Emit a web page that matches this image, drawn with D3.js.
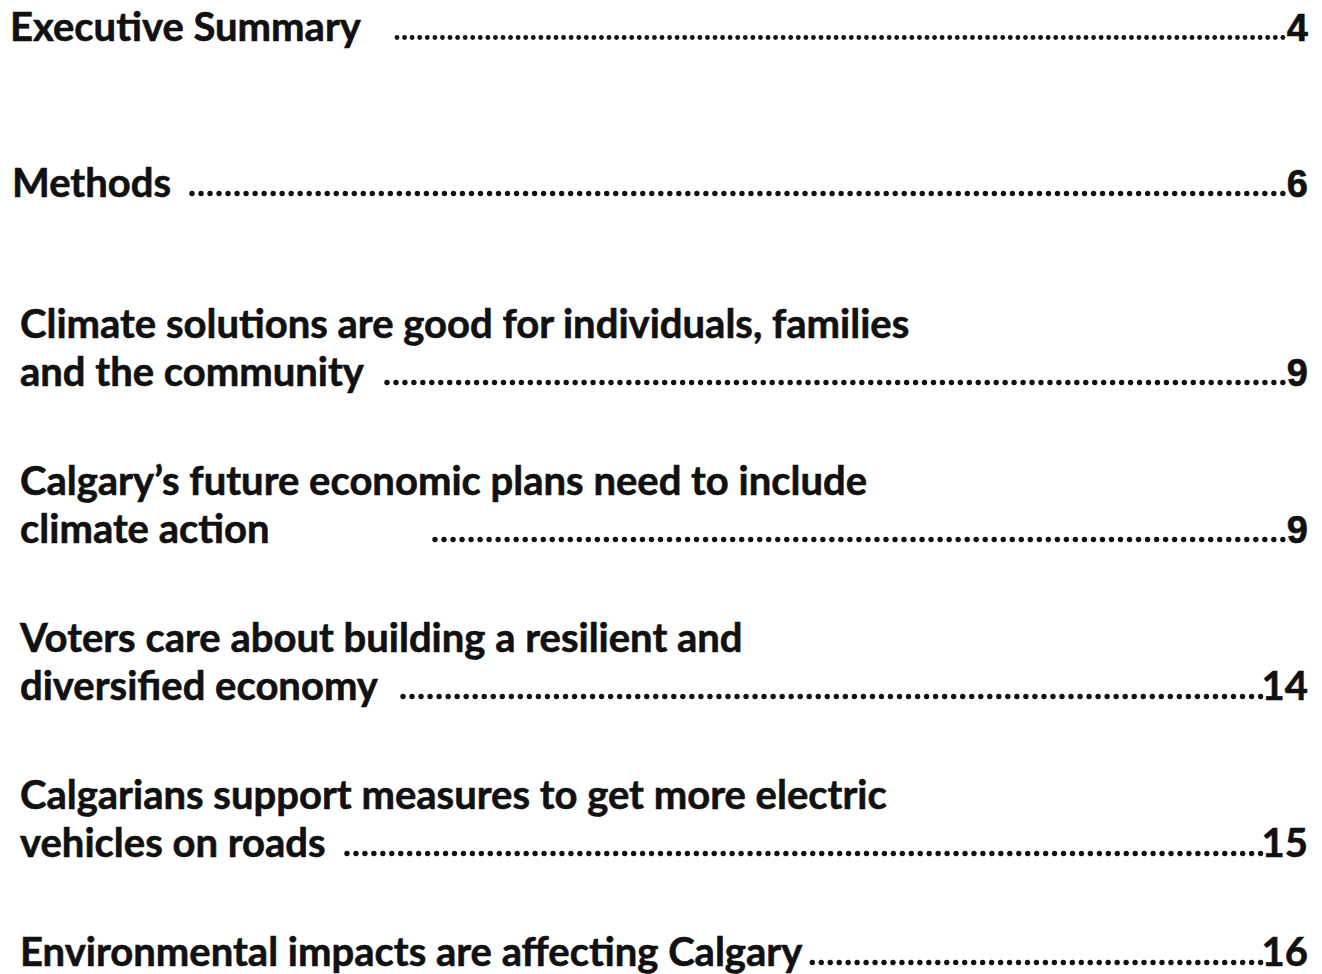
<!DOCTYPE html>
<html>
<head>
<meta charset="utf-8">
<script src="https://cdnjs.cloudflare.com/ajax/libs/d3/7.8.5/d3.min.js"></script>
<style>
	html, body { margin: 0; padding: 0; background: #fff; }
	svg { display: block; }
</style>
</head>
<body>
<div id="toc"></div>
<script>
	// table of contents entries
	var titles = [
		["Executive Summary"],
		["Methods"],
		["Climate solutions are good for individuals, families", "and the community"],
		["Calgary\u2019s future economic plans need to include", "climate action"],
		["Voters care about building a resilient and", "diversified economy"],
		["Calgarians support measures to get more electric", "vehicles on roads"],
		["Environmental impacts are affecting Calgary"]
	];
	var pages = [4, 6, 9, 9, 14, 15, 16];

	var width = 1322, height = 974;

	// layout bits
	var indent = [10, 12, 20, 20, 20, 20, 20];
	var leaderStart = [397, 192, 387, 435, 403, 347, 808];
	var lineGap = 48;
	var fontSize = 40;
	var numRight = 1308;
	var ink = "#111";

	// first-line baseline per row (rows 1-2 sit a bit tighter)
	var y = d3.scaleLinear()
		.domain([0, 1, 2, 6])
		.range([41, 197, 338, 966]);

	var svg = d3.select("#toc").append("svg")
		.attr("width", width)
		.attr("height", height);

	svg.append("rect")
		.attr("width", width)
		.attr("height", height)
		.attr("fill", "#fff");

	var rows = svg.selectAll(".entry")
		.data(titles)
		.enter().append("g")
		.attr("class", "entry");

	rows.each(function(lines, i) {
		var g = d3.select(this);
		var base = y(i);
		var lastBase = base + (lines.length - 1) * lineGap;

		var txt = g.selectAll(".line")
			.data(lines)
			.enter().append("text")
			.attr("class", "line")
			.attr("x", indent[i])
			.attr("y", function(d, j) { return base + j * lineGap; })
			.style("font-family", "Lato, 'Open Sans', sans-serif")
			.style("font-weight", 700)
			.style("font-size", fontSize + "px")
			.attr("fill", ink)
			.attr("stroke", ink)
			.attr("stroke-width", 0.6)
			.text(function(d) { return d; });

		var lastLen = txt.nodes()[lines.length - 1].getComputedTextLength();

		var single = pages[i] < 10;
		var num = g.append("text")
			.attr("x", numRight)
			.attr("y", lastBase)
			.attr("text-anchor", "end")
			.style("font-family", single ? "'Liberation Sans', Arial, sans-serif" : "Lato, sans-serif")
			.style("font-weight", 700)
			.style("font-size", (single ? 38 : 40) + "px")
			.attr("fill", ink)
			.attr("stroke", ink)
			.attr("stroke-width", 0.6)
			.text(pages[i]);

		var numLen = num.node().getComputedTextLength();

		// leader dots, spread evenly up to the page number
		var x0 = Math.max(leaderStart[i], indent[i] + lastLen + 10);
		var x1 = numRight - numLen - (single ? 4 : 1);
		var step = i == 0 ? 7.6 : 9;
		var r = i == 0 ? 2.4 : 2.7;
		var count = Math.round((x1 - x0) / step);
		var dx = d3.scaleLinear().domain([0, count]).range([x0, x1]);

		g.selectAll(".dot")
			.data(d3.range(count + 1))
			.enter().append("circle")
			.attr("class", "dot")
			.attr("cx", function(k) { return dx(k); })
			.attr("cy", lastBase - 3.5)
			.attr("r", r)
			.attr("fill", ink);
	});
</script>
</body>
</html>
